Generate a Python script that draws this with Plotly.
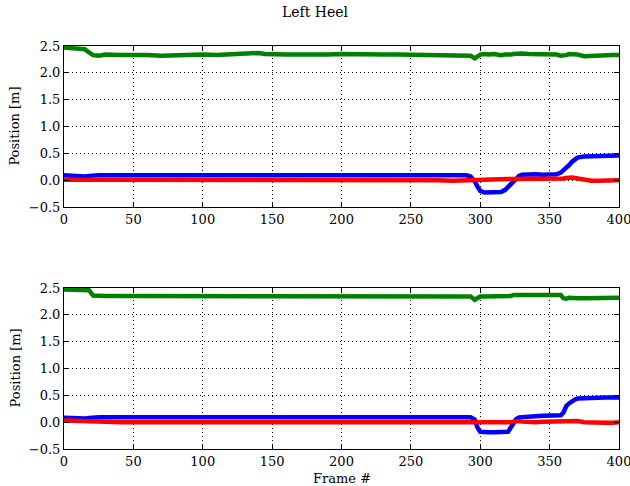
import plotly.graph_objects as go

frames = [0, 5, 10, 15, 18, 21, 25, 30, 40, 50, 60, 70, 80, 90, 100, 110, 120, 130, 140, 145,
          150, 160, 170, 180, 190, 200, 210, 220, 230, 240, 250, 260, 270, 280, 290,
          293, 296, 298, 300, 303, 306, 310, 315, 318, 320, 322, 324, 326, 328, 330,
          335, 340, 345, 350, 355, 358, 360, 362, 364, 366, 368, 370,
          375, 380, 385, 390, 395, 400]

# top panel
top_blue = [0.09, 0.08, 0.08, 0.07, 0.08, 0.09, 0.09, 0.09, 0.09, 0.09, 0.09, 0.09, 0.09, 0.09, 0.10, 0.09, 0.09, 0.09, 0.09, 0.10,
            0.09, 0.09, 0.09, 0.09, 0.09, 0.09, 0.08, 0.09, 0.09, 0.09, 0.09, 0.09, 0.09, 0.09, 0.09,
            0.07, -0.02, -0.12, -0.20, -0.23, -0.23, -0.22, -0.22, -0.18, -0.13, -0.08, -0.03, 0.03, 0.08, 0.10,
            0.11, 0.11, 0.10, 0.11, 0.11, 0.14, 0.18, 0.22, 0.28, 0.34, 0.39, 0.42,
            0.44, 0.44, 0.44, 0.45, 0.45, 0.46]
top_green = [2.47, 2.46, 2.46, 2.44, 2.38, 2.33, 2.32, 2.34, 2.33, 2.34, 2.33, 2.32, 2.33, 2.34, 2.34, 2.33, 2.34, 2.34, 2.37, 2.35,
             2.34, 2.34, 2.34, 2.33, 2.34, 2.35, 2.34, 2.35, 2.34, 2.34, 2.34, 2.34, 2.34, 2.33, 2.33,
             2.32, 2.27, 2.30, 2.34, 2.35, 2.34, 2.35, 2.33, 2.34, 2.33, 2.34, 2.35, 2.36, 2.35, 2.36,
             2.35, 2.35, 2.36, 2.36, 2.34, 2.32, 2.32, 2.33, 2.35, 2.35, 2.34, 2.34,
             2.31, 2.32, 2.32, 2.33, 2.33, 2.33]
top_red = [0.01, 0.01, 0.01, 0.01, 0.01, 0.01, 0.00, 0.00, 0.00, 0.00, 0.00, 0.00, 0.00, 0.00, 0.01, 0.00, 0.00, 0.00, 0.02, 0.01,
           0.00, 0.00, 0.00, 0.00, 0.00, 0.01, 0.00, 0.01, 0.00, 0.00, 0.00, 0.00, 0.00, -0.01, 0.00,
           0.00, 0.01, 0.01, 0.02, 0.02, 0.02, 0.02, 0.02, 0.02, 0.02, 0.02, 0.02, 0.03, 0.03, 0.02,
           0.01, 0.01, 0.01, 0.01, 0.01, 0.02, 0.03, 0.04, 0.05, 0.05, 0.04, 0.03,
           0.01, -0.01, -0.01, 0.00, -0.01, 0.00]

# bottom panel
bot_blue = [0.08, 0.07, 0.07, 0.07, 0.08, 0.09, 0.09, 0.09, 0.09, 0.09, 0.09, 0.09, 0.09, 0.09, 0.09, 0.09, 0.09, 0.09, 0.09, 0.10,
            0.10, 0.10, 0.10, 0.10, 0.10, 0.10, 0.10, 0.10, 0.10, 0.10, 0.10, 0.10, 0.10, 0.10, 0.10,
            0.09, 0.05, -0.10, -0.18, -0.19, -0.19, -0.19, -0.19, -0.19, -0.18, -0.10, -0.02, 0.06, 0.09, 0.09,
            0.10, 0.11, 0.12, 0.12, 0.12, 0.13, 0.18, 0.30, 0.35, 0.39, 0.42, 0.44,
            0.45, 0.46, 0.46, 0.46, 0.46, 0.46]
bot_green = [2.47, 2.47, 2.46, 2.46, 2.46, 2.36, 2.35, 2.35, 2.35, 2.35, 2.35, 2.35, 2.35, 2.35, 2.35, 2.35, 2.35, 2.35, 2.35, 2.36,
             2.36, 2.36, 2.36, 2.36, 2.36, 2.36, 2.36, 2.36, 2.36, 2.36, 2.36, 2.36, 2.36, 2.35, 2.35,
             2.34, 2.28, 2.30, 2.34, 2.34, 2.34, 2.34, 2.34, 2.34, 2.34, 2.35, 2.37, 2.36, 2.37, 2.37,
             2.37, 2.38, 2.38, 2.38, 2.38, 2.37, 2.31, 2.30, 2.32, 2.31, 2.30, 2.31,
             2.31, 2.31, 2.31, 2.31, 2.32, 2.32]
bot_red = [0.03, 0.03, 0.03, 0.03, 0.02, 0.01, 0.01, 0.01, 0.00, 0.00, 0.00, 0.00, 0.00, 0.00, 0.00, 0.00, 0.00, 0.00, 0.00, 0.00,
           0.00, 0.00, 0.00, 0.00, 0.00, 0.00, 0.00, 0.00, 0.00, 0.00, 0.00, 0.00, 0.00, 0.00, 0.00,
           0.00, 0.00, 0.00, -0.01, -0.01, -0.02, -0.02, -0.02, -0.01, -0.01, 0.00, 0.01, 0.02, 0.02, 0.01,
           0.00, 0.00, 0.01, 0.01, 0.01, 0.02, 0.02, 0.02, 0.03, 0.03, 0.02, 0.02,
           0.00, -0.01, -0.01, -0.01, -0.01, 0.00]

x_ticks = [0, 50, 100, 150, 200, 250, 300, 350, 400]
y_ticks = [-0.5, 0.0, 0.5, 1.0, 1.5, 2.0, 2.5]

title_text = "Left Heel"
y_label = "Position [m]"
x_label = "Frame #"

FONT = "DejaVu Serif"
fig = go.Figure()

panels = [("x", "y", top_blue, top_green, top_red), ("x2", "y2", bot_blue, bot_green, bot_red)]
for xa, ya, b, g, r in panels:
    for vals, col in ((b, "#0000ff"), (g, "#008000"), (r, "#ff0000")):
        fig.add_trace(go.Scatter(x=frames, y=vals, mode="lines", xaxis=xa, yaxis=ya,
                                 line=dict(color=col, width=4.5), showlegend=False))

ax_common = dict(showline=True, linecolor="black", linewidth=1, mirror="allticks",
                 ticks="inside", ticklen=5, tickcolor="black", tickwidth=1,
                 showgrid=True, gridcolor="black", gridwidth=1, griddash="1px,3px",
                 zeroline=False, ticklabeloverflow="allow", automargin=False,
                 tickfont=dict(family=FONT, size=13, color="black"))

fig.update_layout(
    width=630, height=486,
    margin=dict(l=64, r=11, t=46, b=37, autoexpand=False),
    paper_bgcolor="white", plot_bgcolor="white",
    font=dict(family=FONT, size=13, color="black"),
    xaxis=dict(domain=[0, 1], anchor="y", range=[0, 400], tickvals=x_ticks, **ax_common),
    yaxis=dict(domain=[0.6005, 1], anchor="x", range=[-0.5, 2.5], tickvals=y_ticks, tickformat=".1f", **ax_common),
    xaxis2=dict(domain=[0, 1], anchor="y2", range=[0, 400], tickvals=x_ticks, **ax_common),
    yaxis2=dict(domain=[0, 0.3995], anchor="x2", range=[-0.5, 2.5], tickvals=y_ticks, tickformat=".1f", **ax_common),
    annotations=[
        dict(text=title_text, xref="paper", yref="paper", x=0.453, y=1.0, yshift=34,
             showarrow=False, font=dict(family=FONT, size=14), xanchor="center", yanchor="middle"),
        dict(text=y_label, xref="paper", yref="paper", x=0, xshift=-49, y=0.8, textangle=-90,
             showarrow=False, font=dict(family=FONT, size=13), xanchor="center", yanchor="middle"),
        dict(text=y_label, xref="paper", yref="paper", x=0, xshift=-49, y=0.2, textangle=-90,
             showarrow=False, font=dict(family=FONT, size=13), xanchor="center", yanchor="middle"),
        dict(text=x_label, xref="paper", yref="paper", x=0.5, y=0, yshift=-29,
             showarrow=False, font=dict(family=FONT, size=13), xanchor="center", yanchor="middle"),
    ],
)

# remove the page's default body margin so the 630x486 figure fills the window exactly
fig.write_html("out.html", config={"displayModeBar": False},
               post_script="document.body.style.margin='0';")
